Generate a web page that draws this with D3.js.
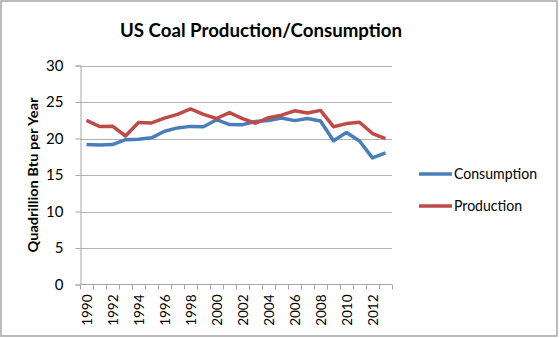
<!DOCTYPE html>
<html><head><meta charset="utf-8">
<script src="https://cdn.jsdelivr.net/npm/d3@7"></script>
<style>body{margin:0;background:#fff}svg{display:block}text{font-family:Lato,"Open Sans",sans-serif;fill:#000}</style>
</head><body>
<script>
const years = d3.range(1990, 2014);
const consumption = [19.17,19.12,19.17,19.84,19.91,20.09,21.00,21.45,21.66,21.62,22.58,21.91,21.90,22.32,22.47,22.80,22.45,22.75,22.39,19.69,20.83,19.66,17.34,18.04];
const production  = [22.49,21.64,21.69,20.34,22.20,22.13,22.79,23.31,24.05,23.30,22.74,23.55,22.73,22.09,22.85,23.19,23.79,23.49,23.85,21.62,22.04,22.22,20.68,19.99];
const yTicks = [0,5,10,15,20,25,30];
const seriesNames = ["Consumption","Production"];
const seriesColors = ["#4a7ebb","#be4b48"];

const W=560,H=338;
const svg=d3.select("body").append("svg").attr("width",W).attr("height",H);
svg.append("rect").attr("x",1).attr("y",1).attr("width",556).attr("height",335).attr("fill","#fff").attr("stroke","#a6a6a6").attr("stroke-width",1.5);

const x=d3.scaleBand().domain(years).range([80,392]);
const y=d3.scaleLinear().domain([0,30]).range([284.5,65.5]);

// gridlines
svg.append("g").selectAll("line").data(yTicks.filter(d=>d>0)).join("line")
 .attr("x1",80).attr("x2",392).attr("y1",d=>Math.round(y(d))+0.5).attr("y2",d=>Math.round(y(d))+0.5)
 .attr("stroke","#b3b3b3").attr("stroke-width",1.2);

// y axis
const yAxis=svg.append("g").attr("transform","translate(80.5,0)")
 .call(d3.axisLeft(y).tickValues(yTicks).tickSize(5).tickPadding(12));
yAxis.select(".domain").attr("stroke","#a6a6a6");
yAxis.selectAll(".tick line").attr("stroke","#a6a6a6");
yAxis.selectAll("text").attr("font-size",15).attr("font-family","Lato,'Open Sans',sans-serif").attr("fill","#000");

// x axis
const xg=svg.append("g").attr("transform","translate(0,284.5)");
xg.append("line").attr("x1",80).attr("x2",392).attr("stroke","#a6a6a6");
const bounds=years.map(d=>x(d)).concat([392]);
xg.selectAll("line.t").data(bounds).join("line").attr("class","t")
 .attr("x1",d=>Math.round(d)+0.5).attr("x2",d=>Math.round(d)+0.5).attr("y1",0).attr("y2",5).attr("stroke","#a6a6a6");
xg.selectAll("text").data(years.filter((d,i)=>i%2===0)).join("text")
 .attr("transform",d=>`translate(${x(d)+x.bandwidth()/2+1},10) rotate(-90)`)
 .attr("text-anchor","end").attr("dy","0.35em").attr("font-size",13.5).text(d=>d);

// lines
const line=d3.line().x((d,i)=>x(years[i])+x.bandwidth()/2).y(d=>y(d));
[consumption,production].forEach((s,k)=>{
 svg.append("path").datum(s).attr("d",line).attr("fill","none")
  .attr("stroke",seriesColors[k]).attr("stroke-width",3.5).attr("stroke-linejoin","round");
});

// title
svg.append("text").attr("x",261).attr("y",37).attr("text-anchor","middle")
 .attr("font-size",19).attr("font-weight","bold").attr("textLength",282).attr("lengthAdjust","spacingAndGlyphs")
 .text("US Coal Production/Consumption");

// y label
svg.append("text").attr("transform","translate(38,175) rotate(-90)").attr("text-anchor","middle")
 .attr("font-size",14).attr("font-weight","bold").attr("textLength",155).attr("lengthAdjust","spacingAndGlyphs")
 .text("Quadrillion Btu per Year");

// legend
const legendWidths=[83,68];
const lg=svg.append("g");
seriesNames.forEach((n,k)=>{
 const yy=174+k*32;
 lg.append("line").attr("x1",419).attr("x2",452).attr("y1",yy).attr("y2",yy).attr("stroke",seriesColors[k]).attr("stroke-width",3.5);
 lg.append("text").attr("x",454).attr("y",yy).attr("dy","0.35em").attr("font-size",15.5)
  .attr("textLength",legendWidths[k]).attr("lengthAdjust","spacingAndGlyphs").text(n);
});
</script>
</body></html>
